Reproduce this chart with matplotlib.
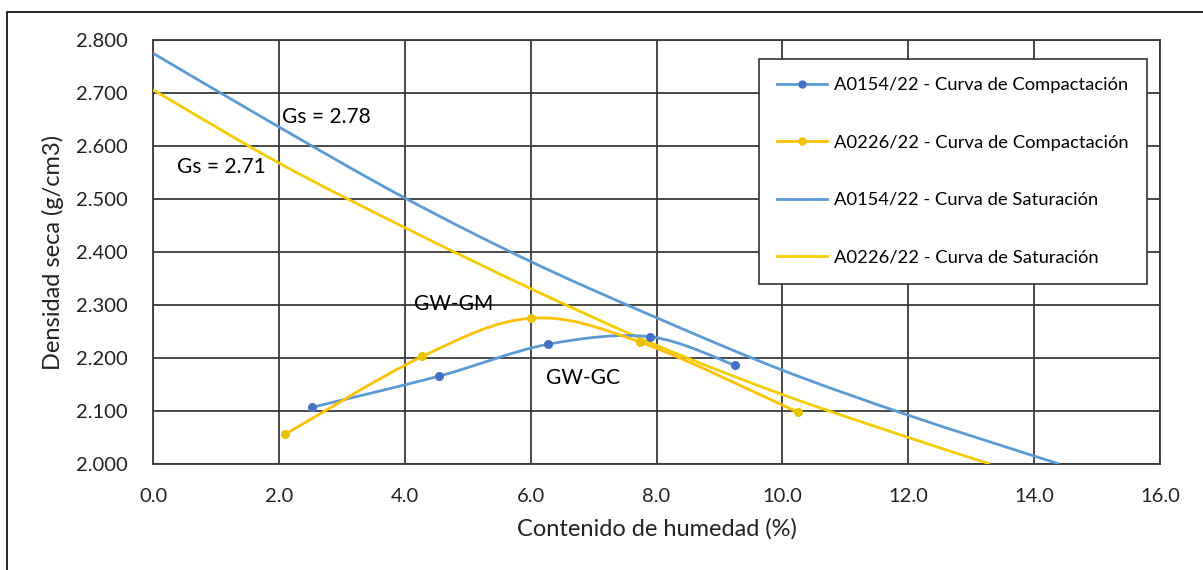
import numpy as np
import matplotlib
matplotlib.use("Agg")
import matplotlib.pyplot as plt
from matplotlib.path import Path
from matplotlib.patches import PathPatch, Rectangle
from matplotlib.lines import Line2D

plt.rcParams['font.family'] = ['Lato', 'DejaVu Sans']

# --- Datos de ensayo Proctor ---
w_a0154 = [2.53, 4.55, 6.28, 7.90, 9.25]
rho_a0154 = [2.107, 2.166, 2.226, 2.240, 2.186]

w_a0226 = [2.10, 4.28, 6.01, 7.74, 10.24]
rho_a0226 = [2.056, 2.203, 2.275, 2.230, 2.098]

# Curvas de saturacion (cero vacios de aire)
w_sat_a0154 = [0.0, 2.0, 4.0, 6.0, 8.0, 10.0, 12.0, 14.0, 14.4]
rho_sat_a0154 = [2.775, 2.636, 2.502, 2.382, 2.276, 2.177, 2.092, 2.015, 2.000]

w_sat_a0226 = [0.0, 2.0, 4.0, 6.0, 8.0, 10.0, 12.0, 13.3]
rho_sat_a0226 = [2.706, 2.568, 2.446, 2.331, 2.224, 2.131, 2.050, 2.000]

x_ticks = [0, 2, 4, 6, 8, 10, 12, 14, 16]
y_ticks = [2.0, 2.1, 2.2, 2.3, 2.4, 2.5, 2.6, 2.7, 2.8]

labels = ["A0154/22 - Curva de Compactación",
          "A0226/22 - Curva de Compactación",
          "A0154/22 - Curva de Saturación",
          "A0226/22 - Curva de Saturación"]

BLUE = "#5B9BD5"
BLUE_MK = "#4472C4"
GOLD = "#FFC000"
GOLD_MK = "#E8C400"
LEMON = "#F5CC00"
GRID = "#3a3a3a"
TXT = "#222222"


def smooth_path(x, y):
    # linea suavizada estilo Excel (Catmull-Rom -> Bezier cubica)
    p = np.column_stack([x, y])
    n = len(p)
    verts = [p[0]]
    codes = [Path.MOVETO]
    for i in range(n - 1):
        p0 = p[i - 1] if i > 0 else p[i]
        p1 = p[i]
        p2 = p[i + 1]
        p3 = p[i + 2] if i + 2 < n else p[i + 1]
        c1 = p1 + (p2 - p0) / 6.0
        c2 = p2 - (p3 - p1) / 6.0
        verts += [c1, c2, p2]
        codes += [Path.CURVE4] * 3
    return Path(verts, codes)


fig = plt.figure(figsize=(12.03, 5.70), dpi=100)
ax = fig.add_axes([0.1272, 0.186, 0.9643 - 0.1272, 0.9298 - 0.186])

# marco exterior
fig.patches.append(Rectangle((7 / 1203, -0.05), 1.2, 1 - 12 / 570 + 0.05,
                             transform=fig.transFigure, fill=False,
                             edgecolor="black", linewidth=1.2))

ax.add_patch(PathPatch(smooth_path(w_sat_a0154, rho_sat_a0154), fill=False,
                       edgecolor=BLUE, linewidth=2.0, zorder=3))
ax.add_patch(PathPatch(smooth_path(w_sat_a0226, rho_sat_a0226), fill=False,
                       edgecolor=LEMON, linewidth=2.0, zorder=3))
ax.add_patch(PathPatch(smooth_path(w_a0154, rho_a0154), fill=False,
                       edgecolor=BLUE, linewidth=2.0, zorder=4))
ax.add_patch(PathPatch(smooth_path(w_a0226, rho_a0226), fill=False,
                       edgecolor=GOLD, linewidth=2.0, zorder=4))
ax.plot(w_a0154, rho_a0154, linestyle="none", marker="o", markersize=5.5,
        color=BLUE_MK, zorder=5)
ax.plot(w_a0226, rho_a0226, linestyle="none", marker="o", markersize=5.5,
        color=GOLD_MK, zorder=5)

ax.set_xlim(0, 16)
ax.set_ylim(2.0, 2.8)
ax.set_xticks(x_ticks)
ax.set_yticks(y_ticks)
ax.set_xticklabels([f"{v:.1f}" for v in x_ticks])
ax.set_yticklabels([f"{v:.3f}" for v in y_ticks])
ax.tick_params(length=0, labelsize=14.5, colors=TXT)
ax.tick_params(axis="x", pad=17)
ax.tick_params(axis="y", pad=18)
ax.grid(True, color=GRID, linewidth=1.3)
ax.set_axisbelow(True)
for s in ax.spines.values():
    s.set_color(GRID)
    s.set_linewidth(1.3)

ax.set_xlabel("Contenido de humedad (%)", fontsize=17, labelpad=10, color=TXT)
ax.set_ylabel("Densidad seca (g/cm3)", fontsize=17, labelpad=9, color=TXT)

ax.text(2.05, 2.655, "Gs = 2.78", fontsize=15, va="center", ha="left", zorder=6)
ax.text(0.38, 2.561, "Gs = 2.71", fontsize=15, va="center", ha="left", zorder=6)
ax.text(4.15, 2.301, "GW-GM", fontsize=15, va="center", ha="left", zorder=6)
ax.text(6.25, 2.163, "GW-GC", fontsize=15, va="center", ha="left", zorder=6)

handles = [
    Line2D([], [], color=BLUE, linewidth=2, marker="o", markersize=5,
           markerfacecolor=BLUE_MK, markeredgecolor=BLUE_MK),
    Line2D([], [], color=GOLD, linewidth=2, marker="o", markersize=5,
           markerfacecolor=GOLD_MK, markeredgecolor=GOLD_MK),
    Line2D([], [], color=BLUE, linewidth=2),
    Line2D([], [], color=LEMON, linewidth=2),
]
leg = ax.legend(handles, labels, loc="upper right", bbox_to_anchor=(0.987, 0.955),
                fontsize=13.2, frameon=True, fancybox=False, edgecolor="#333333",
                framealpha=1.0, labelspacing=2.25, handlelength=2.7,
                handletextpad=0.4, borderpad=1.0, borderaxespad=0)
leg.get_frame().set_linewidth(1.2)
leg.set_zorder(10)

fig.savefig("out.png", dpi=100, facecolor="white")
